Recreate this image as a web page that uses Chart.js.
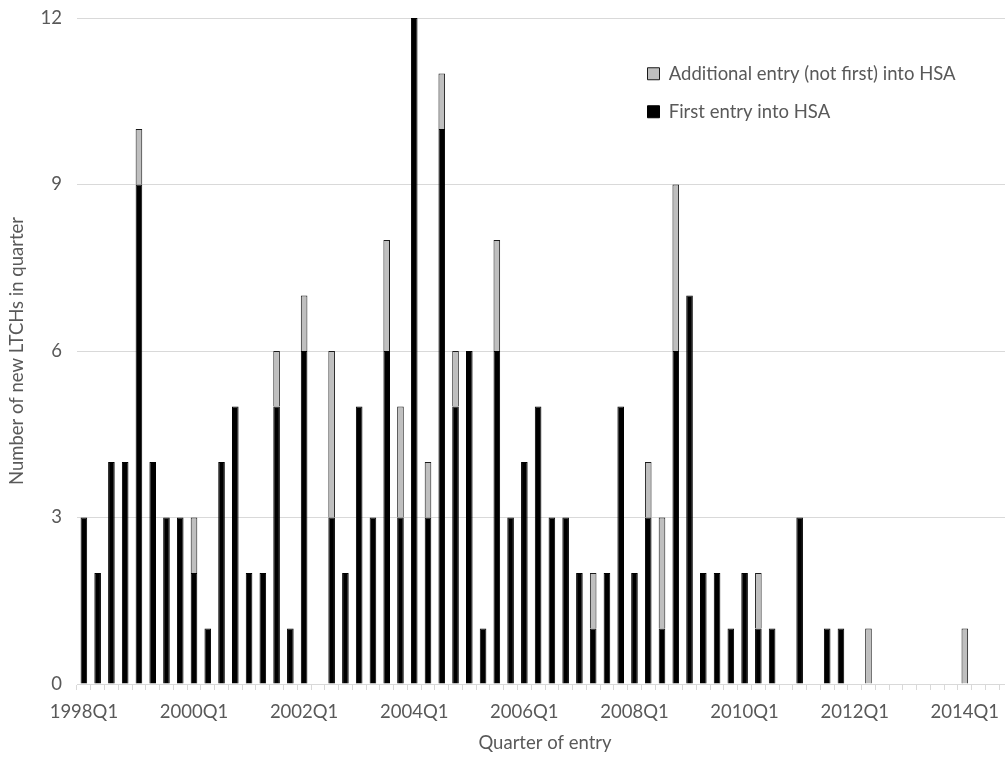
<!DOCTYPE html>
<html>
<head>
<meta charset="utf-8">
<script src="https://cdn.jsdelivr.net/npm/chart.js@4"></script>
<style>
  body { margin: 0; overflow: hidden; background: #fff; }
  #wrap { width: 1015px; height: 759px; }
</style>
</head>
<body>
<div id="wrap"><canvas id="chart" width="1015" height="759"></canvas></div>
<script>
const quarters = [
  "1998Q1","1998Q2","1998Q3","1998Q4","1999Q1","1999Q2","1999Q3","1999Q4",
  "2000Q1","2000Q2","2000Q3","2000Q4","2001Q1","2001Q2","2001Q3","2001Q4",
  "2002Q1","2002Q2","2002Q3","2002Q4","2003Q1","2003Q2","2003Q3","2003Q4",
  "2004Q1","2004Q2","2004Q3","2004Q4","2005Q1","2005Q2","2005Q3","2005Q4",
  "2006Q1","2006Q2","2006Q3","2006Q4","2007Q1","2007Q2","2007Q3","2007Q4",
  "2008Q1","2008Q2","2008Q3","2008Q4","2009Q1","2009Q2","2009Q3","2009Q4",
  "2010Q1","2010Q2","2010Q3","2010Q4","2011Q1","2011Q2","2011Q3","2011Q4",
  "2012Q1","2012Q2","2012Q3","2012Q4","2013Q1","2013Q2","2013Q3","2013Q4",
  "2014Q1","2014Q2","2014Q3","2014Q4"
];

// quarters that get a label on the x axis
const shownLabels = ["1998Q1","2000Q1","2002Q1","2004Q1","2006Q1","2008Q1","2010Q1","2012Q1","2014Q1"];

const firstEntry = [
  3, 2, 4, 4, 9, 4, 3, 3,
  2, 1, 4, 5, 2, 2, 5, 1,
  6, 0, 3, 2, 5, 3, 6, 3,
  12, 3, 10, 5, 6, 1, 6, 3,
  4, 5, 3, 3, 2, 1, 2, 5,
  2, 3, 1, 6, 7, 2, 2, 1,
  2, 1, 1, 0, 3, 0, 1, 1,
  0, 0, 0, 0, 0, 0, 0, 0,
  0, 0, 0, 0
];

const additionalEntry = [
  0, 0, 0, 0, 1, 0, 0, 0,
  1, 0, 0, 0, 0, 0, 1, 0,
  1, 0, 3, 0, 0, 0, 2, 2,
  0, 1, 1, 1, 0, 0, 2, 0,
  0, 0, 0, 0, 0, 1, 0, 0,
  0, 1, 2, 3, 0, 0, 0, 0,
  0, 1, 0, 0, 0, 0, 0, 0,
  0, 1, 0, 0, 0, 0, 0, 0,
  1, 0, 0, 0
];

const textColor = "#595959";
const gridColor = "#D9D9D9";

Chart.defaults.font.family = "Lato, 'Open Sans', sans-serif";
Chart.defaults.color = textColor;

// put the legend inside the plot, top right, like the original
const legendSpot = {
  id: "legendSpot",
  afterLayout(chart) {
    const lg = chart.legend;
    const w = lg.width;
    lg.left = 628;
    lg.right = lg.left + w;
    lg.top = 45;
    lg.bottom = lg.top + 300;
  }
};

const ctx = document.getElementById("chart").getContext("2d");

const myChart = new Chart(ctx, {
  type: "bar",
  data: {
    labels: quarters,
    datasets: [
      {
        label: "First entry into HSA",
        data: firstEntry,
        backgroundColor: "#000000",
        borderColor: "#000000",
        borderWidth: 1,
      },
      {
        label: "Additional entry (not first) into HSA",
        data: additionalEntry,
        backgroundColor: "#BFBFBF",
        borderColor: "#1a1a1a",
        borderWidth: 1,
      },
    ],
  },
  options: {
    responsive: false,
    animation: false,
    devicePixelRatio: 1,
    layout: { padding: { top: 18, left: 0, right: 2, bottom: 0 } },
    datasets: { bar: { categoryPercentage: 1, barPercentage: 0.48 } },
    plugins: {
      tooltip: { enabled: false },
      legend: {
        position: "chartArea",
        align: "start",
        reverse: true,
        labels: {
          boxWidth: 12,
          boxHeight: 12,
          padding: 19.5,
          color: textColor,
          font: { size: 18.5 },
        },
      },
    },
    scales: {
      x: {
        stacked: true,
        offset: true,
        grid: {
          offset: true,
          drawOnChartArea: false,
          drawTicks: true,
          tickLength: 6,
          color: gridColor,
        },
        border: { color: gridColor },
        ticks: {
          autoSkip: false,
          maxRotation: 0,
          padding: 11,
          font: { size: 18.5 },
          callback: function (value, index) {
            const q = quarters[index];
            return shownLabels.includes(q) ? q : "";
          },
        },
        title: {
          display: true,
          text: "Quarter of entry",
          font: { size: 18.5 },
          padding: { top: 0, bottom: 5 },
        },
        afterFit(axis) {
          axis.height = 75;
          axis.paddingLeft = 0;
          axis.paddingRight = 0;
        },
      },
      y: {
        stacked: true,
        min: 0,
        max: 12,
        grid: { color: gridColor, drawTicks: false },
        border: { display: false },
        ticks: { stepSize: 3, padding: 15, font: { size: 18.5 } },
        title: {
          display: true,
          text: "Number of new LTCHs in quarter",
          font: { size: 18.5 },
          padding: { top: 6, bottom: 0 },
        },
        afterFit(axis) {
          axis.width = 77;
          axis.paddingTop = 0;
          axis.paddingBottom = 0;
        },
      },
    },
  },
  plugins: [legendSpot],
});
</script>
</body>
</html>
